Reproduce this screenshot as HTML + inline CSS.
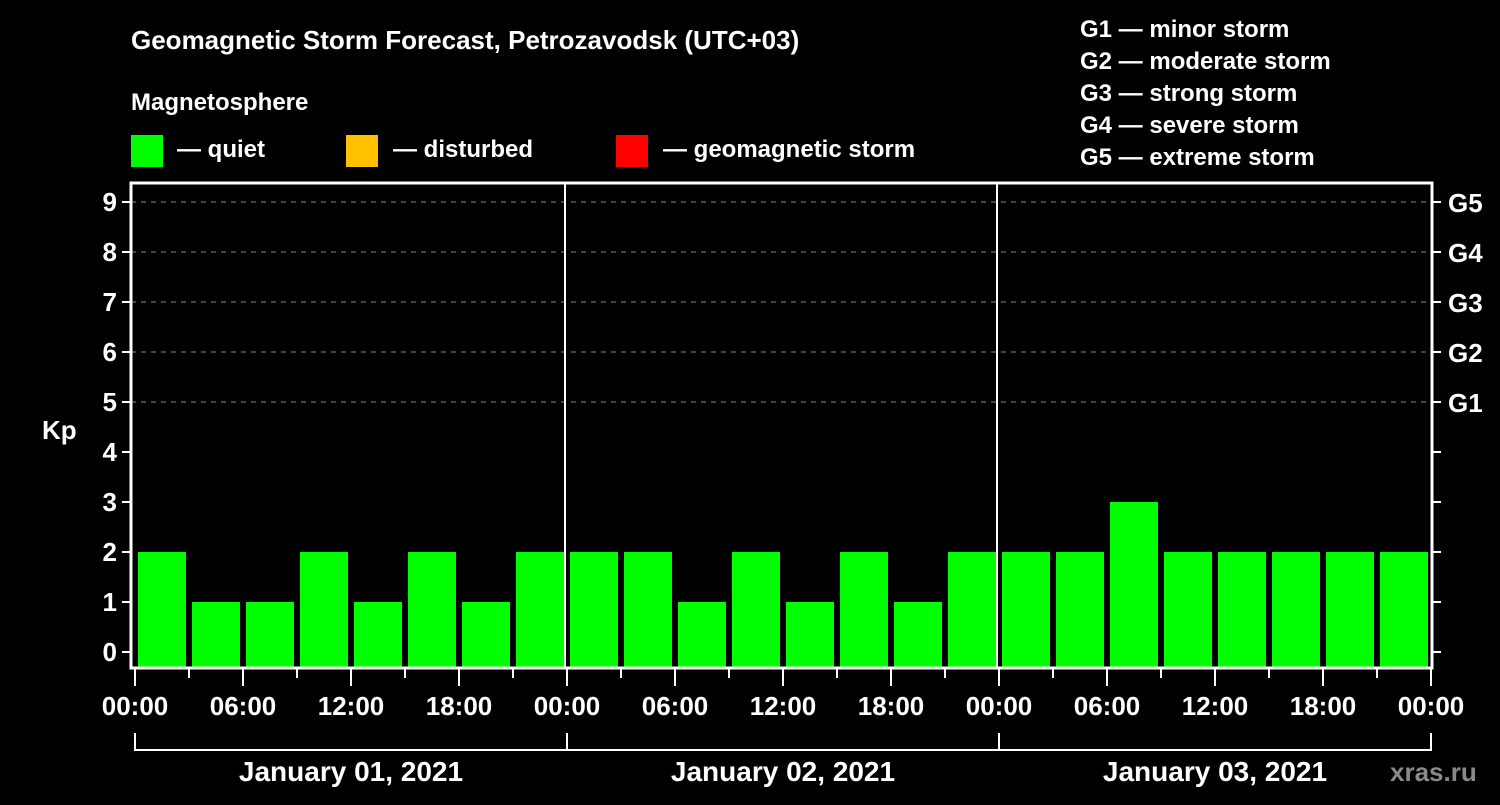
<!DOCTYPE html>
<html><head><meta charset="utf-8"><style>
body{margin:0;background:#000;width:1500px;height:800px;overflow:hidden;font-family:"Liberation Sans",sans-serif;}
svg text{font-family:"Liberation Sans",sans-serif;font-weight:bold;fill:#fff;}
</style></head><body>
<svg width="1500" height="800" xmlns="http://www.w3.org/2000/svg">
<rect width="1500" height="800" fill="#000"/>
<text x="131" y="49" font-size="26">Geomagnetic Storm Forecast, Petrozavodsk (UTC+03)</text>
<text x="131" y="110" font-size="24">Magnetosphere</text>
<g>
<rect x="131" y="135" width="32" height="32" fill="#00ff00"/>
<text x="177" y="157" font-size="24">— quiet</text>
<rect x="346" y="135" width="32" height="32" fill="#ffc000"/>
<text x="393" y="157" font-size="24">— disturbed</text>
<rect x="616" y="135" width="32" height="32" fill="#ff0000"/>
<text x="663" y="157" font-size="24">— geomagnetic storm</text>
</g>
<g font-size="24">
<text x="1080" y="37">G1 — minor storm</text>
<text x="1080" y="69">G2 — moderate storm</text>
<text x="1080" y="101">G3 — strong storm</text>
<text x="1080" y="133">G4 — severe storm</text>
<text x="1080" y="165">G5 — extreme storm</text>
</g>
<text x="42" y="439" font-size="26">Kp</text>
<text x="1390" y="781" font-size="26" fill="#888" style="fill:#8a8a8a">xras.ru</text>
<g id="plot"></g>
</svg>
<script>
const kpValues = [2,1,1,2,1,2,1,2, 2,2,1,2,1,2,1,2, 2,2,3,2,2,2,2,2];
const yTicks = [0,1,2,3,4,5,6,7,8,9];
const gLabels = ["G1","G2","G3","G4","G5"];
const gLevels = [5,6,7,8,9];
const xTickLabels = ["00:00","06:00","12:00","18:00","00:00","06:00","12:00","18:00","00:00","06:00","12:00","18:00","00:00"];
const dayLabels = ["January 01, 2021","January 02, 2021","January 03, 2021"];

const NS="http://www.w3.org/2000/svg";
const g=document.getElementById('plot');
const L=131,R=1432,T=183,B=668,X0=135,STEP=54;
const y=v=>652-50*v;
const x=i=>X0+STEP*i;
function el(t,a,p){const e=document.createElementNS(NS,t);for(const k in a)e.setAttribute(k,a[k]);(p||g).appendChild(e);return e;}
yTicks.forEach(v=>{
  if(v>=5){const d=el('line',{x1:L,x2:R,y1:y(v),y2:y(v),stroke:'#888','stroke-width':1,'stroke-dasharray':'5,5'});
  
  }
  const t=el('line',{x1:L-9,x2:L,y1:y(v),y2:y(v),stroke:'#fff','stroke-width':2});
  
  
  const t2=el('line',{x1:R,x2:R+9,y1:y(v),y2:y(v),stroke:'#fff','stroke-width':2});
  
  
  const lb=el('text',{x:L-14,y:y(v)+9,'font-size':26,'text-anchor':'end'});lb.textContent=v;
  
  
});
gLabels.forEach((s,i)=>{const lb=el('text',{x:R+16,y:y(gLevels[i])+10,'font-size':26});lb.textContent=s;
  
  });
kpValues.forEach((v,i)=>{
  const r=el('rect',{x:x(i)+3,y:y(v),width:48,height:B-1-y(v),fill:'#00ff00'});
  
  
});
for(let d=1;d<3;d++){const s=el('line',{x1:x(d*8)-2,x2:x(d*8)-2,y1:T,y2:B,stroke:'#fff','stroke-width':2});
  
  }
const fr=el('rect',{x:L,y:T,width:R-L,height:B-T,fill:'none',stroke:'#fff','stroke-width':3});


for(let i=0;i<=24;i++){
  const long=i%2==0;
  const t=el('line',{x1:x(i),x2:x(i),y1:B,y2:long?686:678,stroke:'#fff','stroke-width':2});
  
  
  if(long){const lb=el('text',{x:x(i),y:715,'font-size':26,'text-anchor':'middle'});lb.textContent=xTickLabels[i/2];
    
    }
}
dayLabels.forEach((s,d)=>{
  const p=el('path',{d:`M${x(d*8)},733V750H${x(d*8+8)}`+(d==2?'V733':''),stroke:'#fff','stroke-width':2,fill:'none'});
  
  
  const lb=el('text',{x:x(d*8+4),y:781,'font-size':28,'text-anchor':'middle'});lb.textContent=s;
  
  
});
</script>
</body></html>
